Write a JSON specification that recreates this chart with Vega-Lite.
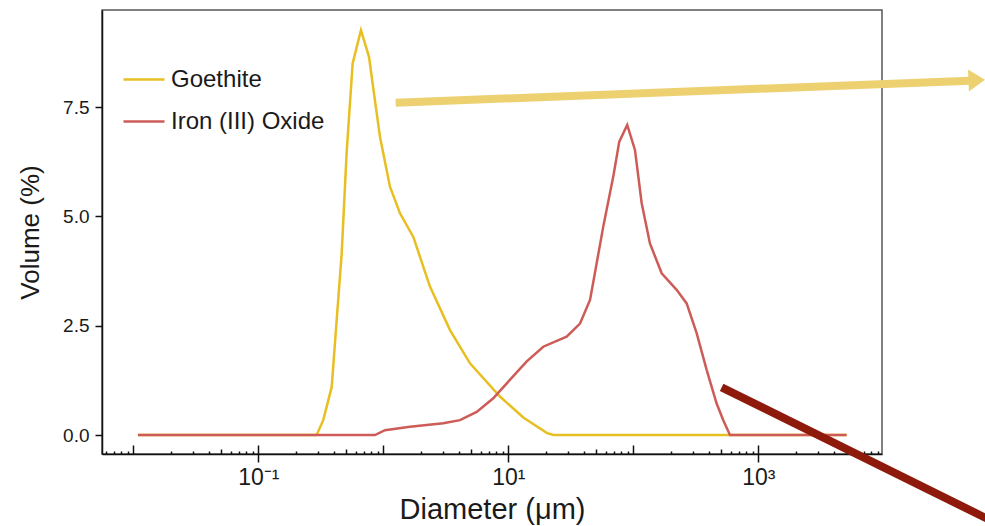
{
  "$schema": "https://vega.github.io/schema/vega-lite/v6.json",
  "width": 780,
  "height": 444,
  "autosize": {"type": "none"},
  "padding": {"left": 102, "top": 10, "right": 103, "bottom": 72},
  "background": "white",
  "config": {
    "view": {"stroke": "#555555", "strokeWidth": 1.5},
    "font": "Liberation Sans",
    "axis": {"labelFont": "Liberation Sans", "titleFont": "Liberation Sans", "labelColor": "#1a1a1a", "titleColor": "#1a1a1a", "titleFontWeight": "normal", "grid": false, "domainColor": "#111111", "domainWidth": 1.5, "tickColor": "#111111", "tickWidth": 1.5}
  },
  "datasets": {
    "curves": [
      {"d": 0.0109, "v": 0, "s": "Goethite"},
      {"d": 0.293, "v": 0, "s": "Goethite"},
      {"d": 0.331, "v": 0.34, "s": "Goethite"},
      {"d": 0.387, "v": 1.10, "s": "Goethite"},
      {"d": 0.424, "v": 2.63, "s": "Goethite"},
      {"d": 0.465, "v": 4.15, "s": "Goethite"},
      {"d": 0.509, "v": 6.44, "s": "Goethite"},
      {"d": 0.569, "v": 8.50, "s": "Goethite"},
      {"d": 0.663, "v": 9.26, "s": "Goethite"},
      {"d": 0.769, "v": 8.65, "s": "Goethite"},
      {"d": 0.941, "v": 6.82, "s": "Goethite"},
      {"d": 1.132, "v": 5.68, "s": "Goethite"},
      {"d": 1.361, "v": 5.07, "s": "Goethite"},
      {"d": 1.74, "v": 4.53, "s": "Goethite"},
      {"d": 2.36, "v": 3.40, "s": "Goethite"},
      {"d": 3.42, "v": 2.40, "s": "Goethite"},
      {"d": 4.94, "v": 1.64, "s": "Goethite"},
      {"d": 8.58, "v": 0.88, "s": "Goethite"},
      {"d": 13.2, "v": 0.40, "s": "Goethite"},
      {"d": 20.3, "v": 0.05, "s": "Goethite"},
      {"d": 22.9, "v": 0, "s": "Goethite"},
      {"d": 5097, "v": 0, "s": "Goethite"},
      {"d": 0.0109, "v": 0, "s": "Iron (III) Oxide"},
      {"d": 0.858, "v": 0, "s": "Iron (III) Oxide"},
      {"d": 1.032, "v": 0.11, "s": "Iron (III) Oxide"},
      {"d": 1.636, "v": 0.19, "s": "Iron (III) Oxide"},
      {"d": 3.02, "v": 0.27, "s": "Iron (III) Oxide"},
      {"d": 4.11, "v": 0.34, "s": "Iron (III) Oxide"},
      {"d": 5.59, "v": 0.53, "s": "Iron (III) Oxide"},
      {"d": 7.59, "v": 0.84, "s": "Iron (III) Oxide"},
      {"d": 10.3, "v": 1.26, "s": "Iron (III) Oxide"},
      {"d": 14.0, "v": 1.68, "s": "Iron (III) Oxide"},
      {"d": 19.05, "v": 2.02, "s": "Iron (III) Oxide"},
      {"d": 29.3, "v": 2.25, "s": "Iron (III) Oxide"},
      {"d": 37.5, "v": 2.55, "s": "Iron (III) Oxide"},
      {"d": 45.1, "v": 3.09, "s": "Iron (III) Oxide"},
      {"d": 47.9, "v": 3.50, "s": "Iron (III) Oxide"},
      {"d": 57.5, "v": 4.76, "s": "Iron (III) Oxide"},
      {"d": 69.2, "v": 5.91, "s": "Iron (III) Oxide"},
      {"d": 77.3, "v": 6.71, "s": "Iron (III) Oxide"},
      {"d": 89.5, "v": 7.09, "s": "Iron (III) Oxide"},
      {"d": 103.2, "v": 6.52, "s": "Iron (III) Oxide"},
      {"d": 116.8, "v": 5.30, "s": "Iron (III) Oxide"},
      {"d": 136, "v": 4.38, "s": "Iron (III) Oxide"},
      {"d": 168.8, "v": 3.70, "s": "Iron (III) Oxide"},
      {"d": 222.4, "v": 3.32, "s": "Iron (III) Oxide"},
      {"d": 267.4, "v": 3.01, "s": "Iron (III) Oxide"},
      {"d": 321.5, "v": 2.33, "s": "Iron (III) Oxide"},
      {"d": 386.5, "v": 1.49, "s": "Iron (III) Oxide"},
      {"d": 464.6, "v": 0.72, "s": "Iron (III) Oxide"},
      {"d": 524.8, "v": 0.34, "s": "Iron (III) Oxide"},
      {"d": 594, "v": 0, "s": "Iron (III) Oxide"},
      {"d": 5097, "v": 0, "s": "Iron (III) Oxide"}
    ],
    "arrows": [
      {"x1": 1.257, "y1": 7.60, "x2": 49400, "y2": 8.104, "c": "#EDD070"},
      {"x1": 509.5, "y1": 1.091, "x2": 85900, "y2": -2.058, "c": "#8E1A0C"}
    ],
    "heads": [
      {"x": 55930, "y": 8.118, "c": "#EDD070"}
    ]
  },
  "resolve": {"axis": {"x": "independent", "y": "shared"}, "scale": {"x": "shared", "y": "shared"}},
  "layer": [
    {
      "data": {"name": "curves"},
      "mark": {"type": "line", "strokeWidth": 2.5, "interpolate": "linear"},
      "encoding": {
        "x": {
          "field": "d", "type": "quantitative",
          "scale": {"type": "log", "domain": [0.005623, 9772], "nice": false},
          "axis": {
            "orient": "bottom",
            "title": null,
            "labels": false,
            "values": [0.006, 0.007, 0.008, 0.009, 0.01, 0.02, 0.03, 0.04, 0.05, 0.06, 0.07, 0.08, 0.09, 0.1, 0.2, 0.3, 0.4, 0.5, 0.6, 0.7, 0.8, 0.9, 1, 2, 3, 4, 5, 6, 7, 8, 9, 10, 20, 30, 40, 50, 60, 70, 80, 90, 100, 200, 300, 400, 500, 600, 700, 800, 900, 1000, 2000, 3000, 4000, 5000, 6000, 7000, 8000, 9000],
            "tickSize": {"condition": [
              {"test": "abs(log(datum.value)/LN10 - round(log(datum.value)/LN10)) < 0.001", "value": -9},
              {"test": "abs(log(datum.value/5)/LN10 - round(log(datum.value/5)/LN10)) < 0.001", "value": -5}
            ], "value": -3},
            "tickWidth": 1.5
          }
        },
        "y": {
          "field": "v", "type": "quantitative",
          "scale": {"domain": [-0.434, 9.72], "nice": false, "zero": false},
          "axis": {"orient": "left", "title": "Volume (%)", "values": [0, 2.5, 5, 7.5], "format": ".1f", "labelFontSize": 19, "titleFontSize": 26, "tickSize": 7, "labelPadding": 6, "titlePadding": 19}
        },
        "color": {
          "field": "s", "type": "nominal",
          "scale": {"domain": ["Goethite", "Iron (III) Oxide"], "range": ["#E8BF22", "#CD5C58"]},
          "legend": {"orient": "none", "legendX": 20, "legendY": 47.5, "title": null, "symbolType": "stroke", "symbolSize": 1681, "symbolStrokeWidth": 2.5, "labelFontSize": 24, "labelFont": "Liberation Sans", "labelColor": "#1a1a1a", "rowPadding": 8, "labelOffset": 5, "padding": 0}
        }
      }
    },
    {
      "data": {"name": "arrows"},
      "mark": {"type": "rule", "strokeWidth": 8, "strokeCap": "butt", "clip": false},
      "encoding": {
        "x": {
          "field": "x1", "type": "quantitative",
          "axis": {
            "orient": "bottom",
            "title": "Diameter (μm)",
            "values": [0.1, 10, 1000],
            "labelExpr": "datum.value < 1 ? '10⁻¹' : (datum.value < 100 ? '10¹' : '10³')",
            "labelFontSize": 23,
            "titleFontSize": 29,
            "tickSize": 8,
            "labelPadding": 4,
            "titlePadding": 6,
            "domain": false
          }
        },
        "x2": {"field": "x2"},
        "y": {"field": "y1", "type": "quantitative"},
        "y2": {"field": "y2"},
        "color": {"field": "c", "type": "nominal", "scale": null}
      }
    },
    {
      "data": {"name": "heads"},
      "mark": {"type": "point", "shape": "M -0.75 -1 L 0.75 0 L -0.75 1 Z", "filled": true, "opacity": 1, "size": 484, "angle": -2.4, "clip": false},
      "encoding": {
        "x": {"field": "x", "type": "quantitative", "axis": null},
        "y": {"field": "y", "type": "quantitative"},
        "color": {"field": "c", "type": "nominal", "scale": null}
      }
    }
  ]
}
